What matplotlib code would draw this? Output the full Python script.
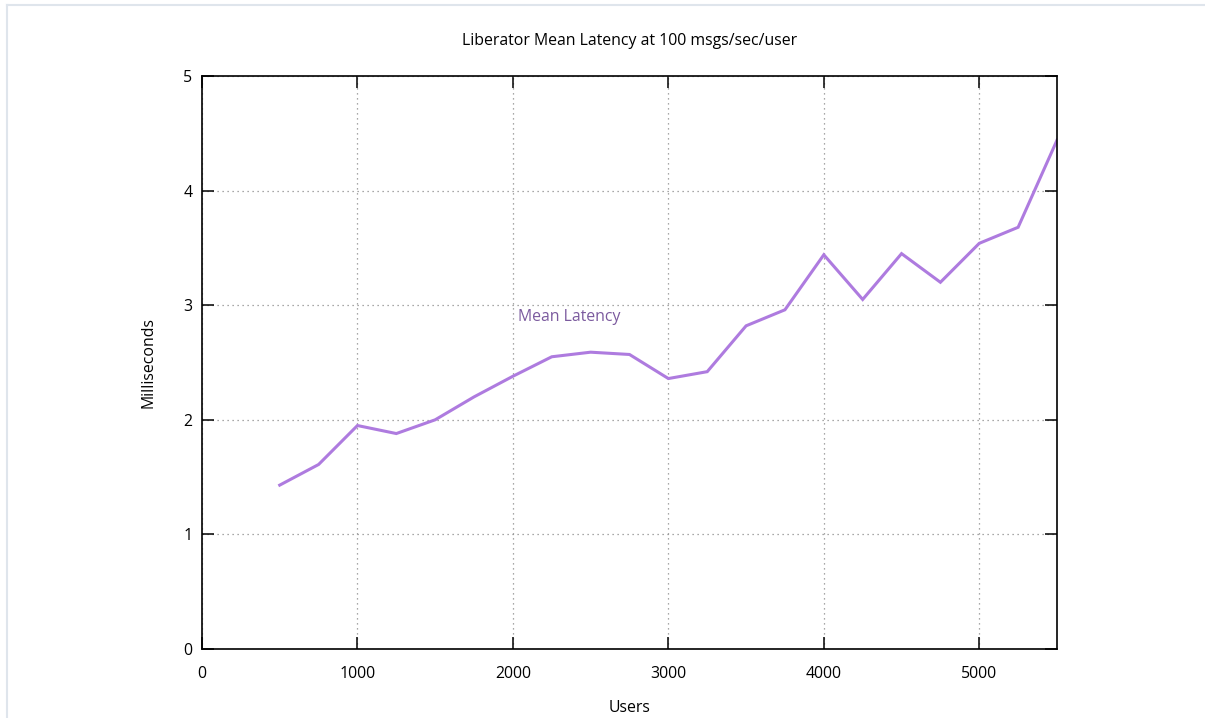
import matplotlib
matplotlib.use("Agg")
import matplotlib.pyplot as plt
from matplotlib.lines import Line2D

plt.rcParams["font.family"] = ["Open Sans", "DejaVu Sans"]

users = [500, 750, 1000, 1250, 1500, 1750, 2000, 2250, 2500, 2750, 3000,
         3250, 3500, 3750, 4000, 4250, 4500, 4750, 5000, 5250, 5500]
mean_latency = [1.43, 1.61, 1.95, 1.88, 2.00, 2.20, 2.38, 2.55, 2.59, 2.57, 2.36,
                2.42, 2.82, 2.96, 3.44, 3.05, 3.45, 3.20, 3.54, 3.68, 4.44]

x_ticks = [0, 1000, 2000, 3000, 4000, 5000]
y_ticks = [0, 1, 2, 3, 4, 5]

FS = 11.4
W, H = 1205, 718
fig = plt.figure(figsize=(W / 100, H / 100), dpi=100)
ax = fig.add_axes([202 / W, (H - 649) / H, (1057 - 202) / W, (649 - 76) / H])

ax.plot(users, mean_latency, color="#ae7bdf", lw=2.2, solid_joinstyle="miter")
ax.text(2030, 2.90, "Mean Latency", color="#7b5a9e", fontsize=FS,
        ha="left", va="center")

ax.set_xlim(0, 5500)
ax.set_ylim(0, 5)
ax.set_xticks(x_ticks)
ax.set_yticks(y_ticks)
ax.grid(True, color="#8c8c8c", lw=0.9, linestyle=(0, (1, 3)))
ax.tick_params(direction="in", length=8.5, width=1.1, top=True, right=True,
               labelsize=FS, colors="black")
ax.tick_params(axis="x", pad=12)
ax.tick_params(axis="y", pad=7)
for s in ax.spines.values():
    s.set_linewidth(1.2)

ax.set_title("Liberator Mean Latency at 100 msgs/sec/user", fontsize=FS, pad=22)
ax.set_xlabel("Users", fontsize=FS, labelpad=13)
ax.set_ylabel("Milliseconds", fontsize=FS, labelpad=19)

# light page frame along the top and left edges
fig.add_artist(Line2D([7 / W, 1], [1 - 4.5 / H, 1 - 4.5 / H], color="#dfe5ec", lw=1.5))
fig.add_artist(Line2D([7.5 / W, 7.5 / W], [0, 1 - 4.5 / H], color="#dfe5ec", lw=1.5))

fig.savefig("out.png", dpi=100)
